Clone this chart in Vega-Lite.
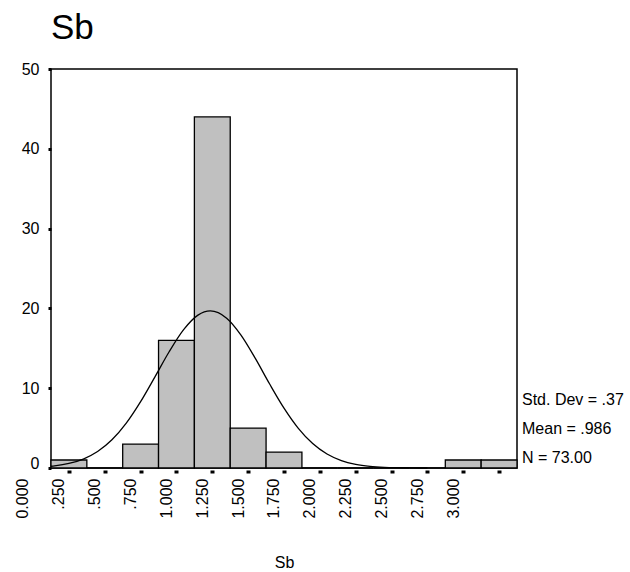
{
  "$schema": "https://vega.github.io/schema/vega-lite/v6.json",
  "autosize": "none",
  "width": 466,
  "height": 399,
  "padding": {"left": 51, "top": 69, "right": 113, "bottom": 104},
  "background": "white",
  "config": {
    "view": {"stroke": "black", "strokeWidth": 1.5},
    "font": "Liberation Sans"
  },
  "title": {
    "text": "Sb",
    "anchor": "start",
    "frame": "group",
    "fontSize": 35,
    "fontWeight": "normal",
    "font": "Liberation Sans",
    "color": "black",
    "offset": 15
  },
  "datasets": {
    "bins": [
      {"start": -0.125, "end": 0.125, "count": 1},
      {"start": 0.125, "end": 0.375, "count": 0},
      {"start": 0.375, "end": 0.625, "count": 3},
      {"start": 0.625, "end": 0.875, "count": 16},
      {"start": 0.875, "end": 1.125, "count": 44},
      {"start": 1.125, "end": 1.375, "count": 5},
      {"start": 1.375, "end": 1.625, "count": 2},
      {"start": 1.625, "end": 1.875, "count": 0},
      {"start": 1.875, "end": 2.125, "count": 0},
      {"start": 2.125, "end": 2.375, "count": 0},
      {"start": 2.375, "end": 2.625, "count": 0},
      {"start": 2.625, "end": 2.875, "count": 1},
      {"start": 2.875, "end": 3.125, "count": 1}
    ],
    "curve": [
      {"x": -0.125, "y": 0.22},
      {"x": -0.1, "y": 0.27},
      {"x": 0.0, "y": 0.57},
      {"x": 0.1, "y": 1.12},
      {"x": 0.2, "y": 2.06},
      {"x": 0.3, "y": 3.53},
      {"x": 0.4, "y": 5.62},
      {"x": 0.5, "y": 8.31},
      {"x": 0.6, "y": 11.42},
      {"x": 0.7, "y": 14.6},
      {"x": 0.8, "y": 17.34},
      {"x": 0.9, "y": 19.16},
      {"x": 0.986, "y": 19.68},
      {"x": 1.1, "y": 18.77},
      {"x": 1.2, "y": 16.65},
      {"x": 1.3, "y": 13.73},
      {"x": 1.4, "y": 10.52},
      {"x": 1.5, "y": 7.5},
      {"x": 1.6, "y": 4.97},
      {"x": 1.7, "y": 3.06},
      {"x": 1.8, "y": 1.75},
      {"x": 1.9, "y": 0.93},
      {"x": 2.0, "y": 0.46},
      {"x": 2.1, "y": 0.21},
      {"x": 2.2, "y": 0.09},
      {"x": 2.3, "y": 0.04},
      {"x": 2.4, "y": 0.01},
      {"x": 2.5, "y": 0.0}
    ],
    "stats": [{"n": 73}]
  },
  "layer": [
    {
      "data": {"name": "bins"},
      "mark": {"type": "rect", "fill": "#c0c0c0", "stroke": "black", "strokeWidth": 1.3},
      "encoding": {
        "x": {
          "field": "start",
          "type": "quantitative",
          "scale": {"domain": [-0.125, 3.125], "nice": false, "zero": false},
          "axis": {
            "values": [0, 0.25, 0.5, 0.75, 1, 1.25, 1.5, 1.75, 2, 2.25, 2.5, 2.75, 3],
            "tickCount": 30,
            "domain": false,
            "grid": false,
            "offset": 2,
            "tickSize": 3,
            "tickWidth": 4,
            "tickColor": "black",
            "labelAngle": 270,
            "labelAlign": "right",
            "labelBaseline": "middle",
            "labelOffset": -46,
            "labelPadding": 5,
            "labelFontSize": 16,
            "labelColor": "black",
            "labelOverlap": false,
            "labelFlush": false,
            "labelExpr": "datum.value == 0 ? '0.000' : (datum.value < 1 ? slice(format(datum.value, '.3f'), 1) : format(datum.value, '.3f'))",
            "title": "Sb",
            "titleFontSize": 16,
            "titleFontWeight": "normal",
            "titleColor": "black",
            "titleBaseline": "alphabetic",
            "titleY": 97
          }
        },
        "x2": {"field": "end"},
        "y": {
          "field": "count",
          "type": "quantitative",
          "scale": {"domain": [0, 50], "nice": false},
          "axis": {
            "values": [0, 10, 20, 30, 40, 50],
            "tickCount": 20,
            "domain": false,
            "grid": false,
            "tickSize": 3,
            "tickWidth": 3,
            "tickColor": "black",
            "labelFontSize": 16,
            "labelColor": "black",
            "labelPadding": 9,
            "labelBaseline": {"condition": {"test": "datum.value == 0", "value": "alphabetic"}, "value": "middle"},
            "title": null
          }
        }
      }
    },
    {
      "data": {"name": "curve"},
      "mark": {"type": "line", "color": "black", "strokeWidth": 1.3, "interpolate": "monotone"},
      "encoding": {
        "x": {"field": "x", "type": "quantitative"},
        "y": {"field": "y", "type": "quantitative"}
      }
    },
    {
      "data": {"name": "stats"},
      "mark": {
        "type": "text",
        "text": ["Std. Dev = .37", "Mean = .986", "N = 73.00"],
        "align": "left",
        "baseline": "alphabetic",
        "lineHeight": 29,
        "fontSize": 16,
        "color": "black",
        "dx": 5,
        "dy": -63
      },
      "encoding": {
        "x": {"datum": 3.125, "type": "quantitative"},
        "y": {"datum": 0, "type": "quantitative"}
      }
    }
  ]
}
